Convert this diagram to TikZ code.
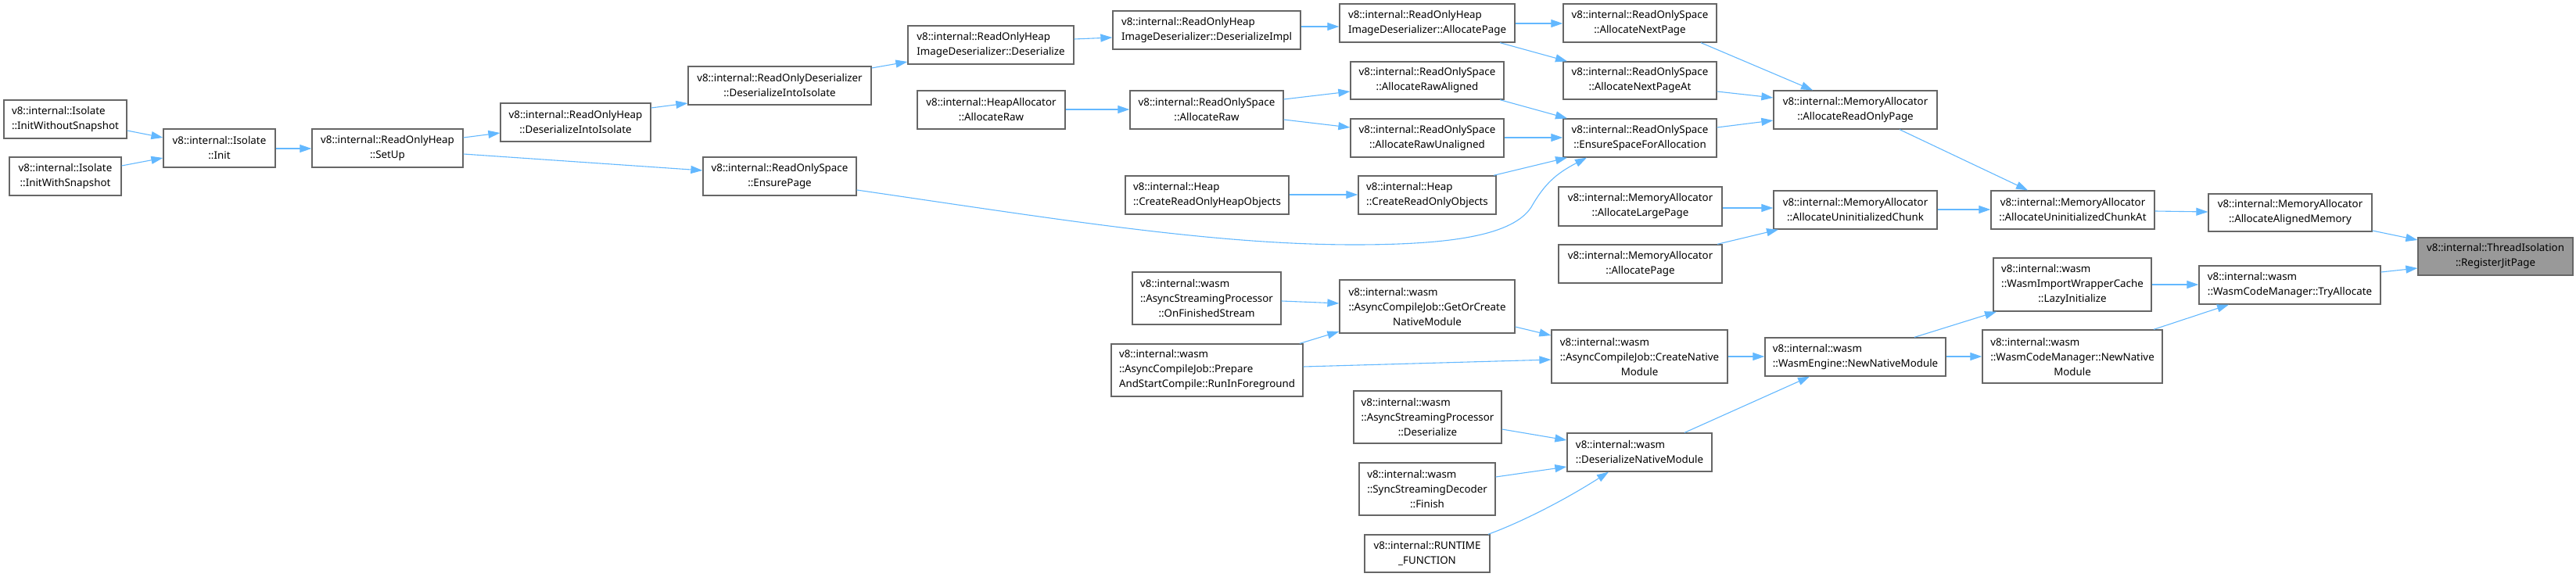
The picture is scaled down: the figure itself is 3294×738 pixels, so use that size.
\documentclass[tikz,border=0pt]{standalone}
\usepackage{fontspec}
\setmainfont{Noto Sans}
\usetikzlibrary{arrows.meta}
\definecolor{edgec}{HTML}{63B8FF}
\definecolor{boxc}{HTML}{666666}
\definecolor{hlc}{HTML}{999999}
\tikzset{
  box/.style={draw=boxc, line width=1.3pt, fill=white, inner sep=0pt,
    font=\fontsize{13.33}{19}\selectfont},
  edge/.style={draw=edgec, line width=1.1pt, -{Triangle[length=15pt,width=10pt]}},
}
\newcommand\bx[8][]{%
  \pgfmathsetmacro\bxw{#5-#3}\pgfmathsetmacro\bxh{#6-#4}%
  \node[box,#1,align=#7,minimum width=\bxw pt,minimum height=\bxh pt] (#2) at ({(#3+#5)/2},{(#4+#6)/2}) {#8};}
\newcommand\wl[1]{\rlap{v8::internal::wasm}\phantom{#1}}
\begin{document}
\begin{tikzpicture}[x=1pt,y=-1pt]
\useasboundingbox (0,0) rectangle (3294,738);
\bx{iwo}{5}{128}{162}{177}{left}{v8::internal::Isolate\\::InitWithoutSnapshot}
\bx{iws}{12}{201}{155}{250}{center}{v8::internal::Isolate\\::InitWithSnapshot}
\bx{init}{209}{165}{352}{214}{center}{v8::internal::Isolate\\::Init}
\bx{setup}{399}{165}{592}{214}{center}{v8::internal::ReadOnlyHeap\\::SetUp}
\bx{rhdii}{640}{132}{832}{181}{center}{v8::internal::ReadOnlyHeap\\::DeserializeIntoIsolate}
\bx{rddii}{880}{85}{1114}{134}{center}{v8::internal::ReadOnlyDeserializer\\::DeserializeIntoIsolate}
\bx{ensp}{899}{201}{1095}{250}{center}{v8::internal::ReadOnlySpace\\::EnsurePage}
\bx{imgdes}{1161}{33}{1373}{82}{left}{v8::internal::ReadOnlyHeap\\ImageDeserializer::Deserialize}
\bx{desimpl}{1423}{14}{1663}{63}{left}{v8::internal::ReadOnlyHeap\\ImageDeserializer::DeserializeImpl}
\bx{haraw}{1173}{116}{1362}{165}{center}{v8::internal::HeapAllocator\\::AllocateRaw}
\bx{rsraw}{1445}{116}{1641}{165}{center}{v8::internal::ReadOnlySpace\\::AllocateRaw}
\bx{crhobj}{1439}{225}{1648}{274}{left}{v8::internal::Heap\\::CreateReadOnlyHeapObjects}
\bx{onfin}{1448}{348}{1638}{415}{center}{\wl{::AsyncStreamingProcessor}\\::AsyncStreamingProcessor\\::OnFinishedStream}
\bx{prep}{1421}{440}{1666}{507}{left}{v8::internal::wasm\\::AsyncCompileJob::Prepare\\AndStartCompile::RunInForeground}
\bx{imgap}{1713}{5}{1937}{54}{left}{v8::internal::ReadOnlyHeap\\ImageDeserializer::AllocatePage}
\bx{nextp}{1999}{5}{2195}{54}{center}{v8::internal::ReadOnlySpace\\::AllocateNextPage}
\bx{nextpat}{1999}{79}{2195}{127}{center}{v8::internal::ReadOnlySpace\\::AllocateNextPageAt}
\bx{rawal}{1727}{79}{1923}{127}{center}{v8::internal::ReadOnlySpace\\::AllocateRawAligned}
\bx{rawun}{1727}{152}{1923}{201}{center}{v8::internal::ReadOnlySpace\\::AllocateRawUnaligned}
\bx{esfa}{1999}{152}{2195}{201}{center}{v8::internal::ReadOnlySpace\\::EnsureSpaceForAllocation}
\bx{croobj}{1737}{225}{1913}{274}{left}{v8::internal::Heap\\::CreateReadOnlyObjects}
\bx{alarge}{1993}{239}{2202}{289}{center}{v8::internal::MemoryAllocator\\::AllocateLargePage}
\bx{apage}{1993}{313}{2202}{362}{center}{v8::internal::MemoryAllocator\\::AllocatePage}
\bx{getor}{1713}{358}{1937}{426}{center}{\wl{::AsyncCompileJob::GetOrCreate}\\::AsyncCompileJob::GetOrCreate\\NativeModule}
\bx{crnat}{1984}{422}{2209}{490}{center}{\wl{::AsyncCompileJob::CreateNative}\\::AsyncCompileJob::CreateNative\\Module}
\bx{aspdes}{1731}{500}{1920}{567}{center}{\wl{::AsyncStreamingProcessor}\\::AsyncStreamingProcessor\\::Deserialize}
\bx{ssdfin}{1738}{592}{1912}{659}{center}{\wl{::SyncStreamingDecoder}\\::SyncStreamingDecoder\\::Finish}
\bx{rtf}{1745}{684}{1905}{732}{center}{v8::internal::RUNTIME\\\_FUNCTION}
\bx{dnm}{2004}{554}{2189}{603}{left}{v8::internal::wasm\\::DeserializeNativeModule}
\bx{arop}{2268}{116}{2477}{165}{center}{v8::internal::MemoryAllocator\\::AllocateReadOnlyPage}
\bx{auc}{2268}{244}{2477}{293}{center}{v8::internal::MemoryAllocator\\::AllocateUninitializedChunk}
\bx{aucat}{2546}{244}{2755}{293}{center}{v8::internal::MemoryAllocator\\::AllocateUninitializedChunkAt}
\bx{lazy}{2549}{330}{2751}{398}{center}{\wl{::WasmImportWrapperCache}\\::WasmImportWrapperCache\\::LazyInitialize}
\bx{wenn}{2257}{432}{2488}{481}{left}{v8::internal::wasm\\::WasmEngine::NewNativeModule}
\bx{wcmnn}{2535}{422}{2765}{490}{center}{\wl{::WasmCodeManager::NewNative}\\::WasmCodeManager::NewNative\\Module}
\bx{aam}{2824}{248}{3033}{296}{center}{v8::internal::MemoryAllocator\\::AllocateAlignedMemory}
\bx[fill=hlc]{rjp}{3092}{304}{3290}{352}{center}{v8::internal::ThreadIsolation\\::RegisterJitPage}
\bx{tryal}{2812}{340}{3044}{389}{left}{v8::internal::wasm\\::WasmCodeManager::TryAllocate}

\draw[edge] (iwo.east |- 0,167) -- (init.west |- 0,176);
\draw[edge] (iws.east |- 0,212) -- (init.west |- 0,202);
\draw[edge] (init.east |- 0,190) -- (setup.west |- 0,190);
\draw[edge] (setup.east |- 0,176) -- (rhdii.west |- 0,170);
\draw[edge] (setup.east |- 0,197) -- (ensp.west |- 0,218);
\draw[edge] (rhdii.east |- 0,138) -- (rddii.west |- 0,132);
\draw[edge] (rddii.east |- 0,87) -- (imgdes.west |- 0,79);
\draw[edge] (imgdes.east |- 0,50) -- (desimpl.west |- 0,48);
\draw[edge] (desimpl.east |- 0,34) -- (imgap.west |- 0,34);
\draw[edge] (imgap.east |- 0,30) -- (nextp.west |- 0,30);
\draw[edge] (imgap.south -| 1918,0) -- (nextpat.north -| 2004,0);
\draw[edge] (haraw.east |- 0,140) -- (rsraw.west |- 0,140);
\draw[edge] (rsraw.east |- 0,127) -- (rawal.west |- 0,117);
\draw[edge] (rsraw.east |- 0,153) -- (rawun.west |- 0,163);
\draw[edge] (rawal.south -| 1918,0) -- (esfa.north -| 2004,0);
\draw[edge] (rawun.east |- 0,176) -- (esfa.west |- 0,176);
\draw[edge] (crhobj.east |- 0,249) -- (croobj.west |- 0,249);
\draw[edge] (croobj.north -| 1910,0) -- (esfa.south -| 2004,0);
\draw[edge] (ensp.east |- 0,243) .. controls (1350,280) and (1550,313) .. (1732,313)
  .. controls (1860,313) and (1935,300) .. (1958,265)
  .. controls (1975,235) and (1990,222) .. (esfa.south -| 2029,0);
\draw[edge] (nextp.south -| 2175,0) -- (arop.north -| 2318,0);
\draw[edge] (nextpat.east |- 0,117) -- (arop.west |- 0,125);
\draw[edge] (esfa.east |- 0,163) -- (arop.west |- 0,154);
\draw[edge] (alarge.east |- 0,266) -- (auc.west |- 0,266);
\draw[edge] (apage.north -| 2196,0) -- (auc.south -| 2274,0);
\draw[edge] (arop.south -| 2429,0) -- (aucat.north -| 2593,0);
\draw[edge] (auc.east |- 0,268) -- (aucat.west |- 0,268);
\draw[edge] (aucat.east |- 0,270) -- (aam.west |- 0,271);
\draw[edge] (aam.east |- 0,295) -- (rjp.west |- 0,307);
\draw[edge] (tryal.east |- 0,348) -- (rjp.west |- 0,343);
\draw[edge] (lazy.east |- 0,364) -- (tryal.west |- 0,364);
\draw[edge] (wcmnn.north -| 2754,0) -- (tryal.south -| 2850,0);
\draw[edge] (wenn.north -| 2448,0) -- (lazy.south -| 2553,0);
\draw[edge] (wenn.east |- 0,456) -- (wcmnn.west |- 0,456);
\draw[edge] (crnat.east |- 0,456) -- (wenn.west |- 0,456);
\draw[edge] (dnm.north -| 2154,0) -- (wenn.south -| 2314,0);
\draw[edge] (getor.east |- 0,418) -- (crnat.west |- 0,429);
\draw[edge] (prep.north -| 1662,0) -- (getor.west |- 0,424);
\draw[edge] (prep.east |- 0,469) -- (crnat.west |- 0,460);
\draw[edge] (onfin.east |- 0,385) -- (getor.west |- 0,388);
\draw[edge] (aspdes.east |- 0,549) -- (dnm.west |- 0,563);
\draw[edge] (ssdfin.east |- 0,610) -- (dnm.west |- 0,597);
\draw[edge] (rtf.north -| 1903,0) .. controls (1945,668) and (2000,640) .. (dnm.south -| 2057,0);
\end{tikzpicture}
\end{document}
